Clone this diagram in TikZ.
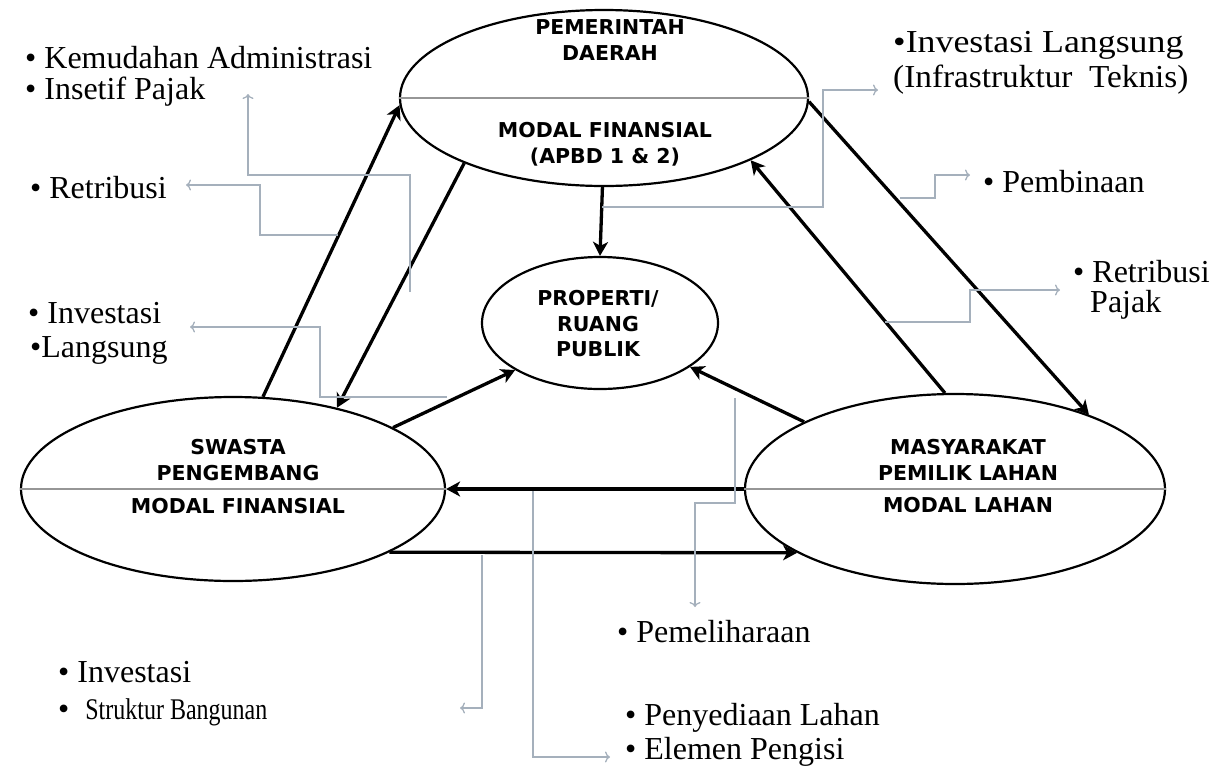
\documentclass[tikz,border=0pt]{standalone}
\usepackage{fontspec}
\setmainfont{Liberation Serif}
\newfontfamily\ellfont{DejaVu Sans}
\usetikzlibrary{shapes.geometric,arrows.meta}
\definecolor{connc}{RGB}{165,176,188}
\definecolor{divc}{RGB}{150,150,150}
\tikzset{
  ell/.style={draw, ellipse, line width=2.2pt, inner sep=0pt},
  etxt/.style={font=\ellfont\bfseries\fontsize{20.5}{25.5}\selectfont, align=center, inner sep=0pt},
  lab/.style={anchor=west, inner sep=0pt, font=\fontsize{32}{34}\selectfont},
  flow/.style={line width=3.3pt, -{Stealth[length=14pt,width=15pt,inset=4pt]}},
  conn/.style={draw=connc, line width=1.3pt, -{To[length=5pt,width=11pt]}},
  divl/.style={draw=divc, line width=1.5pt}
}
\begin{document}
\begin{tikzpicture}[x=1pt,y=-1pt]
\useasboundingbox (0,0) rectangle (1219,769);
% ellipses
\node[ell, minimum width=408pt, minimum height=176pt] (pem) at (604,98) {};
\node[ell, minimum width=236pt, minimum height=132pt] (pro) at (600,323) {};
\node[ell, minimum width=424pt, minimum height=184pt] (swa) at (233,489) {};
\node[ell, minimum width=420pt, minimum height=190pt] (mas) at (955,489) {};
% dividers
\draw[divl] (pem.west) -- (pem.east);
\draw[divl] (swa.west) -- (swa.east);
\draw[divl] (mas.west) -- (mas.east);
% ellipse texts
\node[etxt] (pemA) at (610,40) {PEMERINTAH\\DAERAH};
\node[etxt] (pemB) at (605,144) {MODAL FINANSIAL\\(APBD 1 \& 2)};
\node[etxt] (proT) at (598,324) {PROPERTI/\\RUANG\\PUBLIK};
\node[etxt] (swaA) at (238,460) {SWASTA\\PENGEMBANG};
\node[etxt] (swaB) at (238,506) {MODAL FINANSIAL};
\node[etxt] (masA) at (968,460) {MASYARAKAT\\PEMILIK LAHAN};
\node[etxt] (masB) at (968,505) {MODAL LAHAN};
% main flows
\draw[flow] (swa.72.5) -- (pem.182);
\draw[flow] (pem.205) -- (swa.38);
\draw[flow] (pem.269) -- (pro.90);
\draw[flow] (swa.21) -- (pro.209);
\draw[flow] (mas.156.6) -- (pro.-26);
\draw[flow] (mas.96) -- (pem.-23);
\draw[flow] (pem.-1) -- (mas.29);
\draw[flow] (mas.180) -- (swa.0);
\draw[flow] (swa.-22.8) -- (mas.202.4);
% labels
\node[lab] (kem) at (25,58) {• Kemudahan Administrasi};
\node[lab] (ins) at (25,92) {• Insetif Pajak};
\node[lab] (ret) at (30,188) {• Retribusi};
\node[lab] (inv) at (28,313) {• Investasi};
\node[lab] (lan) at (30,350) {•Langsung};
\node[lab] (ivl) at (893,45) {\scalebox{1.12}[1]{•Investasi Langsung}};
\node[lab] (inf) at (893,80) {\scalebox{1.04}[1]{(Infrastruktur\ \ Teknis)}};
\node[lab] (pmb) at (983,182) {• Pembinaan};
\node[lab] (rtp) at (1073,272) {• Retribusi};
\node[lab] (paj) at (1090,305) {Pajak};
\node[lab] (pml) at (617,632) {• Pemeliharaan};
\node[lab] (isb) at (58,672) {• Investasi};
\node[lab] (stb) at (58,712) {•\ \ \fontsize{30}{32}\selectfont\scalebox{0.8}[1]{Struktur Bangunan}};
\node[lab] (pyl) at (625,718) {• Penyediaan Lahan};
\node[lab] (elp) at (625,752) {• Elemen Pengisi};
% connector coordinates
\coordinate (a1) at (410,292); \coordinate (a2) at (248,175); \coordinate (a3) at (248,94);
\coordinate (b1) at (338,235); \coordinate (b2) at (260,185); \coordinate (b3) at (186,185);
\coordinate (c1) at (447,397); \coordinate (c2) at (320,327); \coordinate (c3) at (190,327);
\coordinate (d1) at (602,207); \coordinate (d2) at (823,90);  \coordinate (d3) at (878,90);
\coordinate (e1) at (900,198); \coordinate (e2) at (935,175); \coordinate (e3) at (970,175);
\coordinate (f1) at (885,322); \coordinate (f2) at (970,290); \coordinate (f3) at (1060,290);
\coordinate (g1) at (735,398); \coordinate (g2) at (695,503); \coordinate (g3) at (695,607);
\coordinate (h1) at (482,555); \coordinate (h2) at (460,708);
\coordinate (i1) at (533,491); \coordinate (i2) at (610,757);
% thin connectors
\draw[conn] (a1) |- (a2) -- (a3);
\draw[conn] (b1) -| (b2) -- (b3);
\draw[conn] (c1) -| (c2) -- (c3);
\draw[conn] (d1) -| (d2) -- (d3);
\draw[conn] (e1) -| (e2) -- (e3);
\draw[conn] (f1) -| (f2) -- (f3);
\draw[conn] (g1) |- (g2) -- (g3);
\draw[conn] (h1) |- (h2);
\draw[conn] (i1) |- (i2);
\end{tikzpicture}
\end{document}
